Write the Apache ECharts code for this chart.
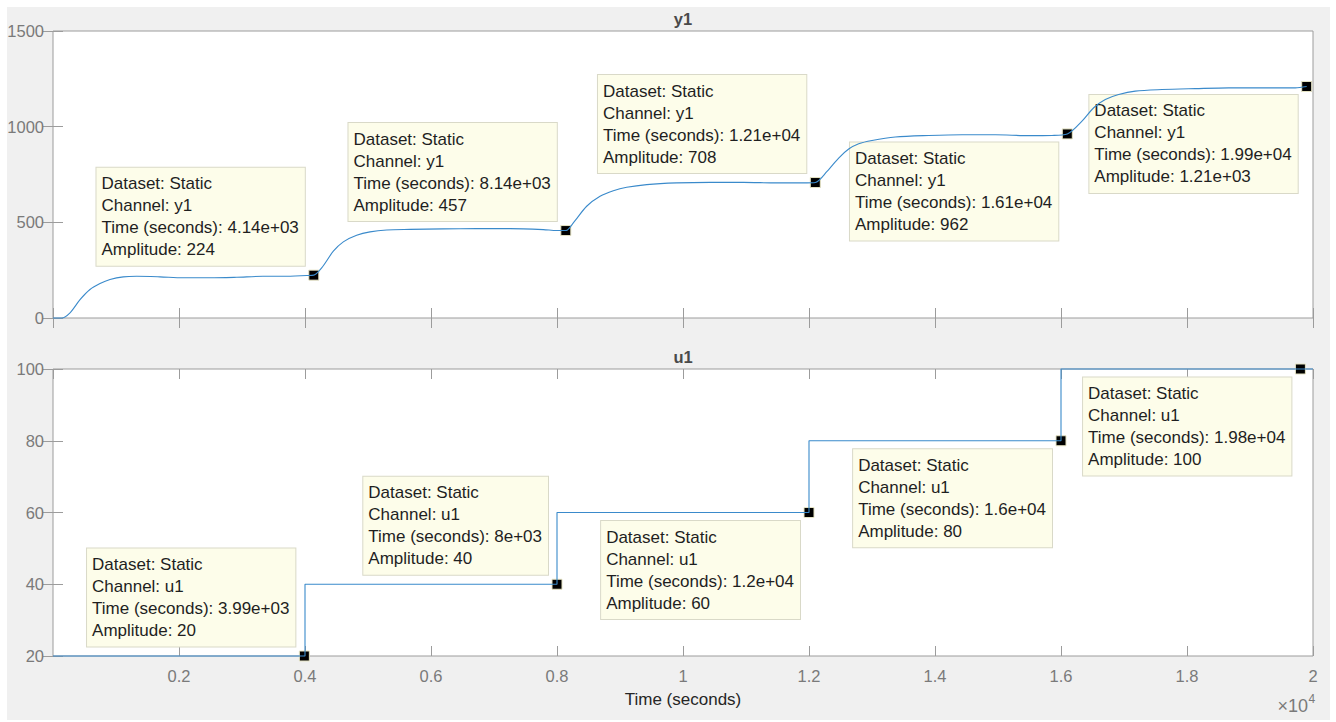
<!DOCTYPE html>
<html>
<head>
<meta charset="utf-8">
<script src="https://cdn.jsdelivr.net/npm/echarts@6/dist/echarts.min.js"></script>
<style>
html,body{margin:0;padding:0;background:#ffffff;}
#frame{position:absolute;left:7px;top:7px;width:1323px;height:713px;background:#f0f0f0;}
#chart{position:absolute;left:0;top:0;width:1336px;height:722px;}
</style>
</head>
<body>
<div id="frame"></div>
<div id="chart"></div>
<script>
// ---- data ----
const y1Time = [0, 138, 270, 429, 587, 746, 905, 1116, 1328, 1698, 2063, 2492, 2916, 3333, 3651, 4027, 4140,
  4265, 4450, 4608, 4820, 5032, 5297, 5667, 6196, 6725, 7254, 7783, 7995, 8140,
  8259, 8471, 8683, 8894, 9106, 9424, 9900, 10429, 10958, 11487, 11963, 12100,
  12286, 12471, 12630, 12789, 13000, 13370, 13900, 14429, 14958, 15487, 15857, 16100,
  16333, 16519, 16703, 16915, 17179, 17603, 18132, 18661, 19190, 19719, 19900];
const y1Value = [0, 0, 27, 96, 149, 180, 201, 215, 218, 215, 210, 210, 213, 218, 218, 222, 224,
  262, 349, 398, 432, 450, 460, 463, 466, 467, 467, 462, 457, 457,
  497, 584, 636, 665, 683, 697, 706, 709, 709, 706, 706, 708,
  766, 836, 883, 911, 928, 946, 954, 958, 958, 953, 954, 962,
  1029, 1099, 1142, 1168, 1186, 1194, 1199, 1203, 1203, 1203, 1210];

const u1Time = [0, 4000, 8000, 12000, 16000, 20000];
const u1Value = [20, 40, 60, 80, 100, 100];

const y1TipTime = [4140, 8140, 12100, 16100, 19900];
const y1TipAmp = [224, 457, 708, 962, 1210];
const y1TipSide = ['above', 'above', 'above', 'below', 'below'];

const u1TipTime = [3990, 8000, 12000, 16000, 19800];
const u1TipAmp = [20, 40, 60, 80, 100];
const u1TipSide = ['above', 'above', 'below', 'below', 'below'];

const xTickValues = [2000, 4000, 6000, 8000, 10000, 12000, 14000, 16000, 18000, 20000];
const xTickLabels = ['0.2', '0.4', '0.6', '0.8', '1', '1.2', '1.4', '1.6', '1.8', '2'];

const panelTitles = ['y1', 'u1'];

// ---- styling ----
const FONT = '"Liberation Sans", Arial, Helvetica, sans-serif';
const AX = '#9c9c9c';
const LBL = '#7a7a7a';
const LINE = '#3a8acb';

function gfmt(v) {
  if (v === 0) return '0';
  const e = Math.floor(Math.log10(Math.abs(v)));
  if (e >= 3 || e < -4) {
    let m = (v / Math.pow(10, e)).toFixed(2).replace(/\.?0+$/, '');
    const es = (Math.abs(e) < 10 ? '0' : '') + Math.abs(e);
    return m + 'e' + (e < 0 ? '-' : '+') + es;
  }
  let s = v.toPrecision(3);
  if (s.indexOf('.') >= 0) s = s.replace(/\.?0+$/, '');
  return s;
}

function tipData(times, amps, channel, sides) {
  return times.map((t, i) => ({
    value: [t, amps[i]],
    label: {
      formatter: ['Dataset: Static', 'Channel: ' + channel,
        'Time (seconds): ' + gfmt(t), 'Amplitude: ' + gfmt(amps[i])]
        .map(s => '{l|' + s + '}').join('\n'),
      position: sides[i] === 'above' ? [-3.5, -4] : [-3.5, 14],
      align: 'right',
      verticalAlign: sides[i] === 'above' ? 'bottom' : 'top'
    }
  }));
}

const tipLabel = {
  show: true,
  fontFamily: FONT,
  fontSize: 17,
  lineHeight: 22,
  color: '#1f1f1f',
  backgroundColor: '#fdfdea',
  borderColor: '#d9d9c8',
  borderWidth: 1,
  padding: [5, 6, 5, 5],
  rich: {
    l: { align: 'left', fontFamily: FONT, fontSize: 17, lineHeight: 22, color: '#1f1f1f' }
  }
};

function xAxisCfg(gridIndex, pos, showLabels, withName) {
  const a = {
    type: 'value', gridIndex: gridIndex, position: pos,
    min: 0, max: 20000, interval: 2000,
    axisLine: { show: false },
    axisTick: { show: true, inside: true, length: 10, lineStyle: { color: AX, width: 1 } },
    splitLine: { show: false },
    axisLabel: {
      show: showLabels, margin: 11, fontFamily: FONT, fontSize: 16.5, color: LBL,
      showMinLabel: false, showMaxLabel: true,
      formatter: v => { const i = xTickValues.indexOf(v); return i >= 0 ? xTickLabels[i] : ''; }
    }
  };
  if (withName) {
    a.name = 'Time (seconds)';
    a.nameLocation = 'middle';
    a.nameGap = 35;
    a.nameTextStyle = { fontFamily: FONT, fontSize: 17, color: '#262626' };
  }
  return a;
}

function yAxisCfg(gridIndex, pos, min, max, interval, showLabels) {
  return {
    type: 'value', gridIndex: gridIndex, position: pos,
    min: min, max: max, interval: interval,
    axisLine: { show: false },
    axisTick: { show: true, inside: true, length: 10, lineStyle: { color: AX, width: 1 } },
    splitLine: { show: false },
    axisLabel: { show: showLabels, margin: 9, fontFamily: FONT, fontSize: 16.5, color: LBL,
      formatter: v => String(v) }
  };
}

const gridBase = { left: 53, right: 23, height: 287, show: true, backgroundColor: '#ffffff',
  borderColor: AX, borderWidth: 1, containLabel: false };

const tipItemStyle = { color: '#000000', borderColor: '#e6e4c4', borderWidth: 1, opacity: 1 };

const option = {
  animation: false,
  backgroundColor: 'transparent',
  textStyle: { fontFamily: FONT },
  grid: [
    Object.assign({}, gridBase, { top: 31 }),
    Object.assign({}, gridBase, { top: 369 })
  ],
  xAxis: [
    xAxisCfg(0, 'bottom', false, false),
    xAxisCfg(0, 'top', false, false),
    xAxisCfg(1, 'bottom', true, true),
    xAxisCfg(1, 'top', false, false)
  ],
  yAxis: [
    yAxisCfg(0, 'left', 0, 1500, 500, true),
    yAxisCfg(0, 'right', 0, 1500, 500, false),
    yAxisCfg(1, 'left', 20, 100, 20, true),
    yAxisCfg(1, 'right', 20, 100, 20, false)
  ],
  graphic: [
    { type: 'text', x: 683, y: 19, style: { text: panelTitles[0], align: 'center', verticalAlign: 'middle',
      fontFamily: FONT, fontSize: 16.5, fontWeight: 'bold', fill: '#4a4a4a' } },
    { type: 'text', x: 683, y: 357, style: { text: panelTitles[1], align: 'center', verticalAlign: 'middle',
      fontFamily: FONT, fontSize: 16.5, fontWeight: 'bold', fill: '#4a4a4a' } },
    { type: 'text', x: 1308, y: 706, style: { text: '×10', align: 'right', verticalAlign: 'middle',
      fontFamily: FONT, fontSize: 18, fill: LBL } },
    { type: 'text', x: 1308.5, y: 699, style: { text: '4', align: 'left', verticalAlign: 'middle',
      fontFamily: FONT, fontSize: 12, fill: LBL } }
  ],
  series: [
    {
      type: 'line', xAxisIndex: 0, yAxisIndex: 0, name: 'y1',
      data: y1Time.map((t, i) => [t, y1Value[i]]),
      showSymbol: false, smooth: 0.3, clip: false,
      lineStyle: { color: LINE, width: 1.1 }, silent: true
    },
    {
      type: 'line', xAxisIndex: 2, yAxisIndex: 2, name: 'u1',
      data: u1Time.map((t, i) => [t, u1Value[i]]),
      showSymbol: false, step: 'end', clip: false,
      lineStyle: { color: LINE, width: 1.1 }, silent: true
    },
    {
      type: 'scatter', xAxisIndex: 0, yAxisIndex: 0, name: 'y1 tips',
      data: tipData(y1TipTime, y1TipAmp, 'y1', y1TipSide),
      symbol: 'rect', symbolSize: 10, clip: false, silent: true,
      itemStyle: tipItemStyle,
      label: tipLabel
    },
    {
      type: 'scatter', xAxisIndex: 2, yAxisIndex: 2, name: 'u1 tips',
      data: tipData(u1TipTime, u1TipAmp, 'u1', u1TipSide),
      symbol: 'rect', symbolSize: 10, clip: false, silent: true,
      itemStyle: tipItemStyle,
      label: tipLabel
    }
  ]
};

const chart = echarts.init(document.getElementById('chart'), null, { renderer: 'svg' });
chart.setOption(option);
</script>
</body>
</html>
